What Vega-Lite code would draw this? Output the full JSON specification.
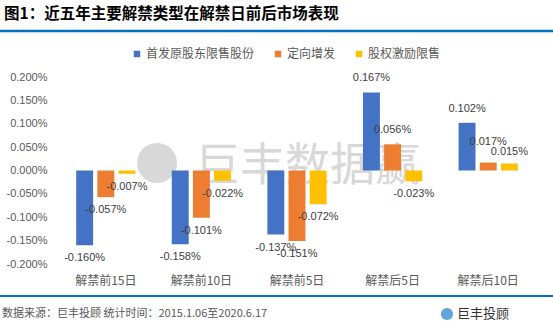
{
  "$schema": "https://vega.github.io/schema/vega-lite/v6.json",
  "width": 478,
  "height": 187,
  "autosize": {"type": "none"},
  "padding": {"left": 58, "top": 77, "right": 17, "bottom": 67},
  "background": "#ffffff",
  "config": {
    "view": {"stroke": null},
    "font": "Noto Sans CJK SC",
    "locale": {
      "number": {"decimal": ".", "thousands": ",", "grouping": [3], "currency": ["$", ""], "minus": "-"}
    }
  },
  "title": {
    "text": "图1：近五年主要解禁类型在解禁日前后市场表现",
    "anchor": "start",
    "frame": "group",
    "dx": -54,
    "offset": 7,
    "fontSize": 15.5,
    "fontWeight": "bold",
    "color": "#000000",
    "font": "Noto Sans CJK SC"
  },
  "data": {
    "values": [
      {"cat": "解禁前15日", "series": "首发原股东限售股份", "v": -0.00160},
      {"cat": "解禁前15日", "series": "定向增发", "v": -0.00057},
      {"cat": "解禁前15日", "series": "股权激励限售", "v": -0.00007},
      {"cat": "解禁前10日", "series": "首发原股东限售股份", "v": -0.00158},
      {"cat": "解禁前10日", "series": "定向增发", "v": -0.00101},
      {"cat": "解禁前10日", "series": "股权激励限售", "v": -0.00022},
      {"cat": "解禁前5日", "series": "首发原股东限售股份", "v": -0.00137},
      {"cat": "解禁前5日", "series": "定向增发", "v": -0.00151},
      {"cat": "解禁前5日", "series": "股权激励限售", "v": -0.00072},
      {"cat": "解禁后5日", "series": "首发原股东限售股份", "v": 0.00167},
      {"cat": "解禁后5日", "series": "定向增发", "v": 0.00056},
      {"cat": "解禁后5日", "series": "股权激励限售", "v": -0.00023},
      {"cat": "解禁后10日", "series": "首发原股东限售股份", "v": 0.00102},
      {"cat": "解禁后10日", "series": "定向增发", "v": 0.00017},
      {"cat": "解禁后10日", "series": "股权激励限售", "v": 0.00015}
    ]
  },
  "encoding": {
    "x": {
      "field": "cat",
      "type": "nominal",
      "sort": ["解禁前15日", "解禁前10日", "解禁前5日", "解禁后5日", "解禁后10日"],
      "scale": {"paddingInner": 0.38, "paddingOuter": 0.19},
      "axis": {
        "title": null,
        "labelAngle": 0,
        "domain": false,
        "ticks": false,
        "labelPadding": 11,
        "labelFontSize": 12,
        "labelColor": "#595959",
        "labelFont": "Noto Sans CJK SC"
      }
    },
    "xOffset": {
      "field": "series",
      "type": "nominal",
      "sort": ["首发原股东限售股份", "定向增发", "股权激励限售"],
      "scale": {"paddingInner": 0.2}
    },
    "y": {
      "field": "v",
      "type": "quantitative",
      "scale": {"domain": [-0.002, 0.002], "nice": false, "zero": false},
      "axis": {
        "title": null,
        "values": [-0.002, -0.0015, -0.001, -0.0005, 0, 0.0005, 0.001, 0.0015, 0.002],
        "format": ".3%",
        "domain": false,
        "ticks": false,
        "grid": false,
        "labelPadding": 11,
        "labelFontSize": 11,
        "labelColor": "#595959",
        "labelFont": "Liberation Sans"
      }
    }
  },
  "layer": [
    {
      "data": {"values": [{}]},
      "mark": {"type": "text", "fontSize": 45, "color": "#d4d4d4", "opacity": 0.9, "align": "left", "baseline": "middle", "font": "Noto Sans CJK SC"},
      "encoding": {
        "x": {"value": 137},
        "y": {"value": 90},
        "text": {"value": "巨丰数据赢"},
        "xOffset": null
      }
    },
    {
      "data": {"values": [{}]},
      "mark": {"type": "point", "shape": "circle", "filled": true, "color": "#d4d4d4", "opacity": 0.9, "size": 1600},
      "encoding": {
        "x": {"value": 99},
        "y": {"value": 86},
        "xOffset": null
      }
    },
    {
      "data": {"values": [{}]},
      "mark": {"type": "rule", "color": "#D9D9D9", "strokeWidth": 1},
      "encoding": {"y": {"datum": 0}, "x": null, "xOffset": null}
    },
    {
      "mark": {"type": "bar"},
      "encoding": {
        "color": {
          "field": "series",
          "type": "nominal",
          "sort": ["首发原股东限售股份", "定向增发", "股权激励限售"],
          "scale": {"domain": ["首发原股东限售股份", "定向增发", "股权激励限售"], "range": ["#4472C4", "#ED7D31", "#FFC000"]},
          "legend": {
            "title": null,
            "orient": "none",
            "legendX": 73,
            "legendY": -29,
            "direction": "horizontal",
            "symbolType": "square",
            "symbolSize": 42,
            "symbolStrokeWidth": 0,
            "labelFontSize": 12,
            "labelColor": "#595959",
            "labelFont": "Noto Sans CJK SC",
            "labelOffset": 3,
            "columnPadding": 17
          }
        }
      }
    },
    {
      "transform": [{"filter": "datum.v >= 0 && datum.v != 0.00017 && datum.v != 0.00015"}],
      "mark": {"type": "text", "dy": -14, "baseline": "middle", "fontSize": 11, "color": "#404040", "font": "Liberation Sans"},
      "encoding": {"text": {"field": "v", "type": "quantitative", "format": ".3%"}}
    },
    {
      "transform": [{"filter": "datum.v == 0.00017"}],
      "mark": {"type": "text", "dy": -21, "baseline": "middle", "fontSize": 11, "color": "#404040", "font": "Liberation Sans"},
      "encoding": {"text": {"field": "v", "type": "quantitative", "format": ".3%"}}
    },
    {
      "transform": [{"filter": "datum.v == 0.00015"}],
      "mark": {"type": "text", "dy": -11, "baseline": "middle", "fontSize": 11, "color": "#404040", "font": "Liberation Sans"},
      "encoding": {"text": {"field": "v", "type": "quantitative", "format": ".3%"}}
    },
    {
      "transform": [{"filter": "datum.v < 0"}],
      "mark": {"type": "text", "dy": 13, "baseline": "middle", "fontSize": 11, "color": "#404040", "font": "Liberation Sans"},
      "encoding": {"text": {"field": "v", "type": "quantitative", "format": ".3%"}}
    },
    {
      "data": {"values": [{}]},
      "mark": {"type": "rule", "color": "#0070C0", "strokeWidth": 2.5},
      "encoding": {"x": {"value": -58}, "x2": {"value": 495}, "y": {"value": -46}, "xOffset": null}
    },
    {
      "data": {"values": [{}]},
      "mark": {"type": "rule", "color": "#0070C0", "strokeWidth": 2},
      "encoding": {"x": {"value": -58}, "x2": {"value": 495}, "y": {"value": 219}, "xOffset": null}
    },
    {
      "data": {"values": [{}]},
      "mark": {"type": "text", "align": "left", "baseline": "middle", "fontSize": 11, "color": "#595959", "font": "Noto Sans CJK SC"},
      "encoding": {"x": {"value": -56}, "y": {"value": 237}, "text": {"value": "数据来源：巨丰投顾 统计时间：2015.1.06至2020.6.17"}, "xOffset": null}
    },
    {
      "data": {"values": [{}]},
      "mark": {"type": "point", "shape": "circle", "filled": true, "color": "#1F7FD0", "size": 150},
      "encoding": {"x": {"value": 389}, "y": {"value": 237}, "xOffset": null}
    },
    {
      "data": {"values": [{}]},
      "mark": {"type": "text", "align": "left", "baseline": "middle", "fontSize": 13, "color": "#333333", "font": "Noto Sans CJK SC"},
      "encoding": {"x": {"value": 399}, "y": {"value": 237}, "text": {"value": "巨丰投顾"}, "xOffset": null}
    }
  ]
}
